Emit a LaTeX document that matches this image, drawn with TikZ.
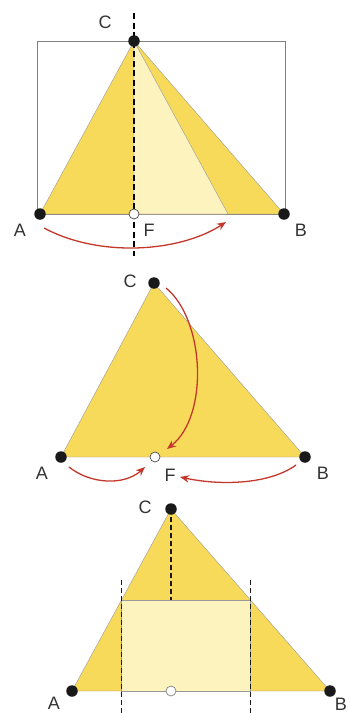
\documentclass[tikz,border=0pt]{standalone}
\usepackage{fontspec}
\setmainfont{Liberation Sans}
\usetikzlibrary{arrows.meta,calc}

\definecolor{paperyel}{HTML}{F8DA5A}
\definecolor{foldyel}{HTML}{FDF3BE}
\definecolor{arrowred}{HTML}{C4382B}

\begin{document}
\begin{tikzpicture}[
  x=1pt, y=-1pt,
  font=\fontsize{18}{20}\selectfont,
  >={Stealth[length=3.2mm, width=2.6mm]},
  pt/.style={circle, fill=black!90, minimum size=11.5pt, inner sep=0pt},
  foot/.style={circle, draw=black!70, fill=white, line width=0.7pt, minimum size=10pt, inner sep=0pt},
  paper/.style={fill=paperyel, draw=black!40, line width=0.4pt},
  folded/.style={fill=foldyel, draw=black!40, line width=0.4pt},
  crease/.style={draw=black, line width=1.8pt, dash pattern=on 6pt off 3.5pt},
  thincrease/.style={draw=black!90, line width=1.8pt, dash pattern=on 5pt off 3pt},
  move/.style={->, draw=arrowred, line width=1.3pt},
  lbl/.style={text=black!80, inner sep=0pt},
]
\useasboundingbox (0,0) rectangle (350,713);

% ---- first picture: fold A onto the base ----
\coordinate (A1) at (40,214);
\coordinate (B1) at (284,214);
\coordinate (C1) at (134,41);
\coordinate (A1r) at (228,214);
\coordinate (D1top) at (134,13);
\coordinate (D1bot) at (134,256);

\draw[black!50, line width=0.6pt] (37,41) rectangle (285,214);
\draw[paper] (A1) -- (B1) -- (C1) -- cycle;
\draw[folded] (C1) -- (134,214) -- (A1r) -- cycle;
\draw[crease] (D1top) -- (D1bot);
\node[foot] (F1) at (134,214) {};
\foreach \p in {A1,B1,C1} \node[pt] (\p dot) at (\p) {};

\node[lbl] (lC1) at (105,22) {C};
\node[lbl] (lA1) at (20,230) {A};
\node[lbl] (lF1) at (149,230) {F};
\node[lbl] (lB1) at (301,230) {B};

\coordinate (s1) at (44,228);
\coordinate (e1) at (226,222);
\draw[move] (s1) .. controls (100,258) and (180,252) .. (e1);

% ---- second picture: all three corners onto F ----
\coordinate (A2) at (61,457);
\coordinate (B2) at (305,457);
\coordinate (C2) at (154,283);
\draw[paper] (A2) -- (B2) -- (C2) -- cycle;
\node[foot] (F2) at (155,457) {};
\foreach \p in {A2,B2,C2} \node[pt] (\p dot) at (\p) {};

\node[lbl] (lC2) at (130,281) {C};
\node[lbl] (lA2) at (42,473) {A};
\node[lbl] (lF2) at (170,475) {F};
\node[lbl] (lB2) at (323,473) {B};

\coordinate (sC) at (166,288);
\coordinate (eC) at (167,449);
\coordinate (sA) at (69,467);
\coordinate (eA) at (145,467);
\coordinate (sB) at (296,465);
\coordinate (eB) at (180,477);
\draw[move] (sC) .. controls (205,320) and (209,416) .. (eC);
\draw[move] (sA) .. controls (90,484) and (124,486) .. (eA);
\draw[move] (sB) .. controls (270,484) and (222,486) .. (eB);

% ---- third picture: rectangle from the midpoints ----
\coordinate (A3) at (72,691);
\coordinate (B3) at (330,691);
\coordinate (C3) at (171,509);
\coordinate (ML) at ($(A3)!0.5!(C3)$);
\coordinate (MR) at ($(B3)!0.5!(C3)$);
\coordinate (ML0) at (ML |- A3);
\coordinate (MR0) at (MR |- A3);
\coordinate (MC) at (C3 |- ML);

\draw[paper] (A3) -- (B3) -- (C3) -- cycle;
\draw[folded] (ML) -- (MR) -- (MR0) -- (ML0) -- cycle;
\draw[thincrease] (ML |- 0,580) -- (ML |- 0,713);
\draw[thincrease] (MR |- 0,580) -- (MR |- 0,713);
\draw[thincrease] (C3) -- (MC);
\node[foot, draw=black!50] (F3) at (171,691) {};
\foreach \p in {A3,B3,C3} \node[pt] (\p dot) at (\p) {};

\node[lbl] (lC3) at (145,507) {C};
\node[lbl] (lA3) at (54,703) {A};
\node[lbl] (lB3) at (341,704) {B};
\end{tikzpicture}
\end{document}
